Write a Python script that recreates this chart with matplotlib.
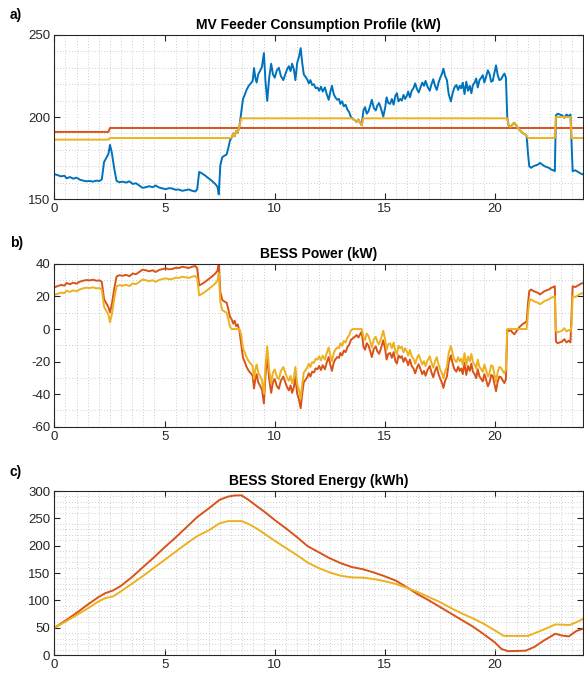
import matplotlib
matplotlib.use('Agg')
import matplotlib.pyplot as plt
from matplotlib.ticker import MultipleLocator

plt.rcParams['font.family'] = ['Liberation Sans', 'DejaVu Sans']
plt.rcParams['axes.unicode_minus'] = False   # plain hyphen like the original

BLUE = '#0072BD'
RED = '#D95319'
YELLOW = '#EDB120'
DARK = '#262626'

# time axis (hours) shared by the load and power series
hours = [
    0.00, 0.15, 0.30, 0.45, 0.55, 0.70, 0.85, 1.00, 1.15, 1.30, 1.45, 1.60, 1.75, 1.90, 2.05, 2.15,
    2.25, 2.35, 2.45, 2.52, 2.60, 2.72, 2.82, 2.95, 3.10, 3.25, 3.40, 3.55, 3.70, 3.85, 4.00, 4.15,
    4.30, 4.45, 4.60, 4.75, 4.90, 5.05, 5.20, 5.35, 5.50, 5.65, 5.80, 5.95, 6.10, 6.25, 6.40, 6.48,
    6.57, 6.70, 6.85, 7.00, 7.15, 7.30, 7.40, 7.46, 7.53, 7.62, 7.72, 7.82, 7.90, 7.97, 8.05, 8.12,
    8.18, 8.25, 8.32, 8.40, 8.48, 8.56, 8.64, 8.72, 8.82, 8.92, 9.00, 9.06, 9.12, 9.18, 9.25, 9.33,
    9.42, 9.51, 9.58, 9.66, 9.75, 9.84, 9.92, 10.00, 10.10, 10.19, 10.28, 10.39, 10.48, 10.56, 10.64, 10.72,
    10.79, 10.87, 10.94, 11.02, 11.10, 11.18, 11.25, 11.32, 11.40, 11.47, 11.55, 11.62, 11.70, 11.78, 11.86, 11.94,
    12.02, 12.10, 12.18, 12.28, 12.36, 12.45, 12.52, 12.60, 12.68, 12.75, 12.84, 12.92, 12.98, 13.06, 13.14, 13.22,
    13.30, 13.38, 13.46, 13.55, 13.64, 13.72, 13.80, 13.88, 13.95, 14.03, 14.10, 14.18, 14.26, 14.34, 14.41, 14.50,
    14.59, 14.66, 14.74, 14.82, 14.93, 15.02, 15.08, 15.16, 15.24, 15.32, 15.40, 15.48, 15.55, 15.62, 15.70, 15.77,
    15.85, 15.92, 16.00, 16.06, 16.14, 16.22, 16.30, 16.38, 16.46, 16.54, 16.62, 16.70, 16.78, 16.85, 16.94, 17.04,
    17.12, 17.20, 17.28, 17.36, 17.44, 17.52, 17.60, 17.66, 17.74, 17.82, 17.90, 18.00, 18.08, 18.16, 18.25, 18.33,
    18.40, 18.47, 18.54, 18.62, 18.70, 18.78, 18.86, 18.93, 19.00, 19.08, 19.15, 19.22, 19.30, 19.38, 19.45, 19.52,
    19.60, 19.68, 19.76, 19.83, 19.90, 19.97, 20.05, 20.12, 20.20, 20.28, 20.36, 20.43, 20.50, 20.56, 20.63, 20.72,
    20.80, 20.88, 20.96, 21.04, 21.12, 21.20, 21.28, 21.36, 21.44, 21.50, 21.56, 21.64, 21.75, 21.85, 21.95, 22.05,
    22.15, 22.25, 22.35, 22.45, 22.55, 22.65, 22.72, 22.77, 22.85, 22.95, 23.05, 23.15, 23.25, 23.35, 23.43, 23.48,
    23.53, 23.65, 23.78, 23.90, 24.00,
]

# MV feeder consumption (kW)
load_kw = [
    165.2, 164.5, 163.8, 164.2, 162.6, 163.4, 162.4, 163.0, 161.8, 161.2, 160.8, 161.0, 160.6, 161.2, 161.0, 162.0,
    172.5, 175.0, 177.5, 183.0, 178.5, 168.0, 161.0, 160.2, 160.6, 160.0, 160.8, 159.2, 159.6, 158.2, 156.8, 157.2,
    157.8, 157.2, 158.2, 157.0, 156.5, 156.0, 156.6, 156.4, 155.6, 155.8, 155.0, 155.4, 155.8, 155.0, 154.6, 156.0,
    166.5, 165.6, 164.2, 162.6, 161.0, 159.2, 157.5, 152.8, 170.5, 175.5, 176.4, 177.2, 181.5, 185.8, 187.5, 190.0,
    188.2, 191.5, 190.5, 194.5, 203.0, 211.0, 213.5, 216.5, 219.0, 220.6, 222.0, 229.8, 224.0, 221.0, 226.0, 228.0,
    230.5, 239.0, 222.0, 209.8, 224.0, 232.5, 226.0, 224.0, 228.5, 230.0, 225.0, 222.5, 226.0, 229.0, 231.0, 228.0,
    232.5, 229.0, 222.5, 233.0, 236.5, 242.0, 233.0, 226.0, 224.5, 223.0, 220.5, 222.5, 219.5, 220.0, 217.5, 218.0,
    216.0, 218.5, 215.5, 218.0, 214.0, 210.5, 215.0, 219.0, 214.0, 212.0, 210.5, 211.0, 208.0, 209.5, 206.5, 207.5,
    204.5, 203.0, 200.0, 199.0, 198.0, 197.0, 198.5, 196.5, 195.0, 204.0, 206.0, 202.0, 203.5, 207.0, 210.5, 205.5,
    204.0, 207.0, 208.5, 205.5, 200.2, 206.0, 212.0, 208.5, 208.0, 211.0, 207.5, 213.0, 214.5, 209.5, 211.0, 210.0,
    213.5, 211.0, 213.0, 215.5, 212.0, 216.0, 217.5, 220.5, 217.0, 215.0, 218.0, 221.0, 219.0, 222.0, 218.5, 216.0,
    220.0, 223.0, 219.0, 216.5, 221.0, 224.0, 226.5, 229.5, 225.0, 222.5, 214.0, 209.5, 214.5, 218.0, 219.5, 216.5,
    219.0, 217.5, 221.0, 214.0, 221.5, 216.0, 219.0, 214.5, 219.5, 221.0, 223.5, 218.0, 222.5, 224.0, 225.5, 221.0,
    224.5, 228.5, 226.0, 221.5, 222.0, 226.5, 231.5, 226.0, 222.5, 223.0, 225.0, 226.5, 224.0, 199.5, 194.5, 194.0,
    195.5, 196.5, 195.0, 193.5, 192.0, 191.0, 190.0, 189.5, 188.5, 178.0, 170.0, 169.0, 170.0, 170.5, 171.0, 172.0,
    171.0, 170.0, 169.5, 169.0, 168.0, 167.5, 167.0, 201.0, 202.0, 201.5, 201.0, 199.5, 201.5, 200.5, 201.5, 185.0,
    167.0, 167.5, 166.5, 165.5, 165.0,
]

# BESS power (kW), red and yellow cases
power_red = [
    25.7, 26.4, 27.1, 26.7, 28.3, 27.5, 28.5, 27.9, 29.1, 29.7, 30.1, 29.9, 30.3, 29.7, 29.9, 28.9,
    18.4, 15.9, 13.4, 10.3, 14.8, 25.3, 32.3, 33.1, 32.7, 33.3, 32.5, 34.1, 33.7, 35.1, 36.5, 36.1,
    35.5, 36.1, 35.1, 36.3, 36.8, 37.3, 36.7, 36.9, 37.7, 37.5, 38.3, 37.9, 37.5, 38.3, 38.7, 37.3,
    26.8, 27.7, 29.1, 30.7, 32.3, 34.1, 35.8, 40.5, 22.8, 17.8, 16.9, 16.1, 11.8, 7.5, 5.8, 3.3,
    5.1, 1.8, 2.8, -1.2, -9.7, -17.7, -20.2, -23.2, -25.7, -27.3, -28.7, -36.5, -30.7, -27.7, -32.7, -34.7,
    -37.2, -45.7, -28.7, -16.5, -30.7, -39.2, -32.7, -30.7, -35.2, -36.7, -31.7, -29.2, -32.7, -35.7, -37.7, -34.7,
    -39.2, -35.7, -29.2, -39.7, -43.2, -48.7, -39.7, -32.7, -31.2, -29.7, -27.2, -29.2, -26.2, -26.7, -24.2, -24.7,
    -22.7, -25.2, -22.2, -24.7, -20.7, -17.2, -21.7, -25.7, -20.7, -18.7, -17.2, -17.7, -14.7, -16.2, -13.2, -14.2,
    -11.2, -9.7, -6.7, -5.7, -4.7, -3.7, -5.2, -3.2, -1.7, -10.7, -12.7, -8.7, -10.2, -13.7, -17.2, -12.2,
    -10.7, -13.7, -15.2, -12.2, -6.9, -12.7, -18.7, -15.2, -14.7, -17.7, -14.2, -19.7, -21.2, -16.2, -17.7, -16.7,
    -20.2, -17.7, -19.7, -22.2, -18.7, -22.7, -24.2, -27.2, -23.7, -21.7, -24.7, -27.7, -25.7, -28.7, -25.2, -22.7,
    -26.7, -29.7, -25.7, -23.2, -27.7, -30.7, -33.2, -36.2, -31.7, -29.2, -20.7, -16.2, -21.2, -24.7, -26.2, -23.2,
    -25.7, -24.2, -27.7, -20.7, -28.2, -22.7, -25.7, -21.2, -26.2, -27.7, -30.2, -24.7, -29.2, -30.7, -32.2, -27.7,
    -31.2, -35.2, -32.7, -28.2, -28.7, -33.2, -38.2, -32.7, -29.2, -29.7, -31.7, -33.2, -30.7, -0.5, -1.2, -0.7,
    -2.2, -3.2, -1.7, -0.2, 1.3, 2.3, 3.3, 3.8, 4.8, 15.3, 23.3, 24.3, 23.3, 22.8, 22.3, 21.3,
    22.3, 23.3, 23.8, 24.3, 25.3, 25.8, 26.3, -7.7, -8.7, -8.2, -7.7, -6.2, -8.2, -7.2, -8.2, 8.3,
    26.3, 25.8, 26.8, 27.8, 28.3,
]

power_yellow = [
    21.0, 21.7, 22.4, 22.0, 23.6, 22.8, 23.8, 23.2, 24.4, 25.0, 25.4, 25.2, 25.6, 25.0, 25.2, 24.2,
    13.7, 11.2, 8.7, 4.2, 8.7, 19.2, 26.2, 27.0, 26.6, 27.2, 26.4, 28.0, 27.6, 29.0, 30.4, 30.0,
    29.4, 30.0, 29.0, 30.2, 30.7, 31.2, 30.6, 30.8, 31.6, 31.4, 32.2, 31.8, 31.4, 32.2, 32.6, 31.2,
    20.7, 21.6, 23.0, 24.6, 26.2, 28.0, 29.7, 34.4, 16.7, 11.7, 10.8, 10.0, 5.7, 1.4, 0.0, 0.0,
    0.0, 0.0, 0.0, 0.0, -3.8, -11.8, -14.3, -17.3, -19.8, -21.4, -22.8, -30.6, -24.8, -21.8, -26.8, -28.8,
    -31.3, -39.8, -22.8, -10.6, -24.8, -33.3, -26.8, -24.8, -29.3, -30.8, -25.8, -23.3, -26.8, -29.8, -31.8, -28.8,
    -33.3, -29.8, -23.3, -33.8, -37.3, -42.8, -33.8, -26.8, -25.3, -23.8, -21.3, -23.3, -20.3, -20.8, -18.3, -18.8,
    -16.8, -19.3, -16.3, -18.8, -14.8, -11.3, -15.8, -19.8, -14.8, -12.8, -11.3, -11.8, -8.8, -10.3, -7.3, -8.3,
    -5.3, -3.8, -0.8, 0.0, 0.0, 0.0, 0.0, 0.0, 0.0, -4.8, -6.8, -2.8, -4.3, -7.8, -11.3, -6.3,
    -4.8, -7.8, -9.3, -6.3, -1.0, -6.8, -12.8, -9.3, -8.8, -11.8, -8.3, -13.8, -15.3, -10.3, -11.8, -10.8,
    -14.3, -11.8, -13.8, -16.3, -12.8, -16.8, -18.3, -21.3, -17.8, -15.8, -18.8, -21.8, -19.8, -22.8, -19.3, -16.8,
    -20.8, -23.8, -19.8, -17.3, -21.8, -24.8, -27.3, -30.3, -25.8, -23.3, -14.8, -10.3, -15.3, -18.8, -20.3, -17.3,
    -19.8, -18.3, -21.8, -14.8, -22.3, -16.8, -19.8, -15.3, -20.3, -21.8, -24.3, -18.8, -23.3, -24.8, -26.3, -21.8,
    -25.3, -29.3, -26.8, -22.3, -22.8, -27.3, -32.3, -26.8, -23.3, -23.8, -25.8, -27.3, -24.8, 0.0, 0.0, 0.0,
    0.0, 0.0, 0.0, 0.0, 0.0, 0.0, 0.0, 0.0, 0.0, 9.2, 17.2, 18.2, 17.2, 16.7, 16.2, 15.2,
    16.2, 17.2, 17.7, 18.2, 19.2, 19.7, 20.2, -1.0, -2.0, -1.5, -1.0, 0.5, -1.5, -0.5, -1.5, 2.2,
    20.2, 19.7, 20.7, 21.7, 22.2,
]

# feeder limits (panel a)
limit_red_t = [0.0, 2.45, 2.52, 24.0]
limit_red_kw = [190.9, 190.9, 193.3, 193.3]

limit_yellow_t = [0.0, 2.45, 2.52, 7.97, 8.05, 8.12, 8.18, 8.25, 8.32, 8.40, 8.48, 13.46, 13.55, 13.64,
                  13.72, 13.80, 13.88, 13.95, 14.03, 20.56, 20.63, 20.72, 20.80, 20.88, 20.96, 21.04,
                  21.12, 21.20, 21.28, 21.36, 21.44, 21.50, 22.72, 22.77, 23.43, 23.48, 24.0]
limit_yellow_kw = [186.2, 186.2, 187.2, 187.2, 187.5, 190.0, 188.2, 191.5, 190.5, 194.5, 199.2, 199.2,
                   199.0, 198.0, 197.0, 198.5, 196.5, 195.0, 199.2, 199.2, 194.5, 194.0, 195.5, 196.5,
                   195.0, 193.5, 192.0, 191.0, 190.0, 189.5, 188.5, 187.2, 187.2, 200.0, 200.0, 187.2, 187.2]

# stored energy (kWh)
energy_red_t = [0, 0.5, 1.0, 1.5, 2.0, 2.3, 2.65, 3.0, 3.5, 4.0, 4.5, 5.0, 5.5, 6.0, 6.5, 7.0, 7.5, 7.9,
                8.2, 8.5, 8.8, 9.2, 9.6, 10.0, 10.5, 11.0, 11.5, 12.0, 12.5, 13.0, 13.5, 14.0, 14.5, 15.0,
                15.5, 16.0, 16.5, 17.0, 17.5, 18.0, 18.5, 19.0, 19.5, 20.0, 20.3, 20.6, 21.4, 21.8, 22.2,
                22.75, 23.0, 23.35, 23.7, 24.0]
energy_red = [50, 63, 77, 92, 106, 113, 118, 126, 142, 160, 178, 197, 215, 234, 253, 268, 284, 290,
              292, 292, 284, 272, 260, 247, 232, 216, 199, 188, 177, 168, 161, 157, 151, 144,
              136, 124, 111, 100, 88, 76, 64, 52, 38, 23, 11, 7, 8, 15, 26,
              39, 36, 34, 44, 48]

energy_yellow_t = [0, 0.5, 1.0, 1.5, 2.0, 2.3, 2.65, 3.0, 3.5, 4.0, 4.5, 5.0, 5.5, 6.0, 6.5, 7.0, 7.5, 7.9,
                   8.5, 8.8, 9.2, 9.6, 10.0, 10.5, 11.0, 11.5, 12.0, 12.5, 13.0, 13.5, 14.0, 14.5, 15.0,
                   15.5, 16.0, 16.5, 17.0, 17.5, 18.0, 18.5, 19.0, 19.5, 20.0, 20.4, 21.5, 22.0, 22.75,
                   23.4, 23.7, 24.0]
energy_yellow = [50, 61, 73, 85, 98, 104, 107, 116, 130, 144, 159, 174, 189, 204, 218, 228, 241, 245,
                 245, 240, 231, 220, 209, 196, 183, 169, 159, 151, 145, 142, 141.5, 139, 135,
                 130, 123, 115, 106, 97, 86, 76, 67, 57, 45, 35, 35, 43, 56,
                 55, 60, 66]


def style_axes(ax, ylim, ystep, title):
    ax.set_xlim(0, 24)
    ax.set_ylim(*ylim)
    ax.xaxis.set_major_locator(MultipleLocator(5))
    ax.xaxis.set_minor_locator(MultipleLocator(0.5))
    ax.yaxis.set_major_locator(MultipleLocator(ystep))
    ax.yaxis.set_minor_locator(MultipleLocator(10))
    ax.grid(which='minor', color='#bdbdbd', linestyle=(0, (1, 2.5)), linewidth=0.6)
    ax.tick_params(which='major', direction='in', top=True, right=True, length=4, width=0.8,
                   colors=DARK, labelsize=9.5, pad=3)
    ax.tick_params(which='minor', length=0)
    for s in ax.spines.values():
        s.set_color(DARK)
        s.set_linewidth(0.8)
    ax.set_title(title, fontsize=10, fontweight='bold', color='black', pad=4)


fig = plt.figure(figsize=(5.84, 6.73), dpi=100)

# a) feeder consumption
ax1 = fig.add_axes([0.0933, 0.7043, 0.905, 0.2437])
ax1.plot(hours, load_kw, color=BLUE, lw=1.4)
ax1.plot(limit_red_t, limit_red_kw, color=RED, lw=1.4)
ax1.plot(limit_yellow_t, limit_yellow_kw, color=YELLOW, lw=1.4)
style_axes(ax1, (150, 250), 50, 'MV Feeder Consumption Profile (kW)')

# b) BESS power
ax2 = fig.add_axes([0.0933, 0.366, 0.905, 0.2418])
ax2.plot(hours, power_red, color=RED, lw=1.4)
ax2.plot(hours, power_yellow, color=YELLOW, lw=1.4)
style_axes(ax2, (-60, 40), 20, 'BESS Power (kW)')

# c) stored energy
ax3 = fig.add_axes([0.0933, 0.0267, 0.905, 0.2437])
ax3.plot(energy_red_t, energy_red, color=RED, lw=1.4)
ax3.plot(energy_yellow_t, energy_yellow, color=YELLOW, lw=1.4)
style_axes(ax3, (0, 300), 50, 'BESS Stored Energy (kWh)')

for label, ypix in [('a)', 15), ('b)', 243), ('c)', 472)]:
    fig.text(0.017, 1 - ypix / 673, label, fontsize=10, fontweight='bold', va='center', ha='left')

fig.savefig('out.png', dpi=100)
